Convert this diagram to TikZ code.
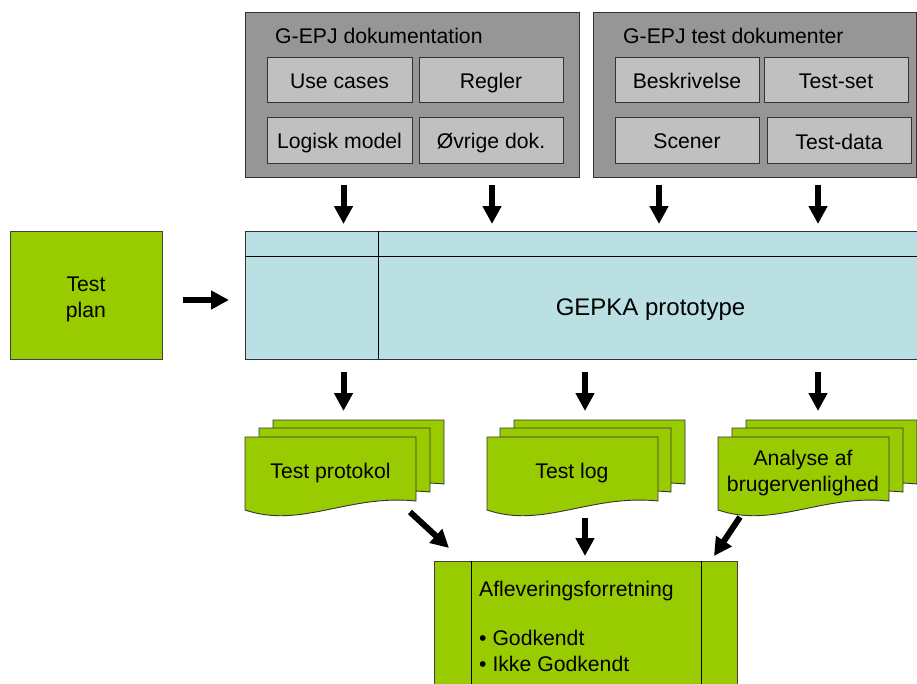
\documentclass[tikz,border=0pt]{standalone}
\usepackage{fontspec}
\setmainfont{Liberation Sans}
\usetikzlibrary{arrows.meta}

\definecolor{outergray}{HTML}{969696}
\definecolor{innergray}{HTML}{C0C0C0}
\definecolor{protocyan}{HTML}{BBE0E3}
\definecolor{leafgreen}{HTML}{99CC00}

\tikzset{
  lbl/.style={font=\fontsize{21.2}{26}\selectfont, text=black, inner sep=0pt, anchor=base},
  groupbox/.style={draw=black!80, line width=0.9pt, fill=outergray, inner sep=0pt},
  itembox/.style={draw=black!80, line width=0.9pt, fill=innergray, inner sep=0pt,
    font=\fontsize{21.2}{26}\selectfont, text height=17pt, text depth=0pt},
  greenbox/.style={draw=black!75, line width=0.9pt, fill=leafgreen, inner sep=0pt},
  flowarrow/.style={line width=6pt, -{Triangle[width=18pt,length=18pt]}},
  docpage/.pic={
    \path[draw=black!80, line width=0.9pt, fill=leafgreen]
      (0,0) -- (171,0) -- (171,64)
      .. controls (103,57) and (56,92) .. (0,73) -- cycle;
  }
}

\begin{document}
\begin{tikzpicture}[x=1pt, y=-1pt]
\useasboundingbox (0,0) rectangle (917,683);
\clip (0,0) rectangle (917,683);

% documentation group
\node[groupbox, minimum width=334, minimum height=165] (doc) at (412,94.5) {};
\node[lbl, anchor=base west] (doctitle) at (275,43) {G-EPJ dokumentation};
\node[itembox, minimum width=145, minimum height=45] (usecases) at (339.5,79.5) {Use cases};
\node[itembox, minimum width=144, minimum height=45] (regler) at (491,79.5) {Regler};
\node[itembox, minimum width=145, minimum height=46] (logisk) at (339.5,140) {Logisk model};
\node[itembox, minimum width=144, minimum height=46] (ovrige) at (491,140) {Øvrige dok.};

% test document group
\node[groupbox, minimum width=323, minimum height=165] (testdoc) at (754.5,94.5) {};
\node[lbl, anchor=base west] (testtitle) at (623,43) {G-EPJ test dokumenter};
\node[itembox, minimum width=144, minimum height=45] (beskr) at (687,79.5) {Beskrivelse};
\node[itembox, minimum width=144, minimum height=45] (testset) at (836,79.5) {Test-set};
\node[itembox, minimum width=144, minimum height=46] (scener) at (687,140) {Scener};
\node[itembox, minimum width=144, minimum height=46, text height=18.5pt] (testdata) at (839,140) {Test-data};

% test plan
\node[greenbox, minimum width=152, minimum height=128] (plan) at (86,295) {};
\node[lbl] (plan1) at (86,291) {Test};
\node[lbl] (plan2) at (86,317) {plan};

% prototype
\node[draw=black!80, line width=0.9pt, fill=protocyan, inner sep=0pt,
      minimum width=680, minimum height=128] (gepka) at (585,295) {};
\draw[black, line width=0.9pt] (245,256) -- (925,256);
\draw[black, line width=0.9pt] (378,231) -- (378,359);
\node[lbl, font=\fontsize{24}{28}\selectfont] (gepkatext) at (650.5,315.5) {GEPKA prototype};

% output documents
\pic at (273,420) {docpage};
\pic at (259,428) {docpage};
\pic at (245,437) {docpage};
\node[lbl] (protokol) at (330.5,478) {Test protokol};

\pic at (514,420) {docpage};
\pic at (500,428) {docpage};
\pic at (487,437) {docpage};
\node[lbl] (testlog) at (572,478) {Test log};

\pic at (746,420) {docpage};
\pic at (732,428) {docpage};
\pic at (718,437) {docpage};
\node[lbl] (analyse1) at (803,465) {Analyse af};
\node[lbl] (analyse2) at (803,491) {brugervenlighed};

% delivery
\node[greenbox, minimum width=303, minimum height=140, anchor=north west] (afl) at (434,561) {};
\draw[black, line width=0.9pt] (471,561) -- (471,700);
\draw[black, line width=0.9pt] (701,561) -- (701,700);
\node[lbl, anchor=base west] (afltitle) at (479,596) {Afleveringsforretning};
\node[lbl, anchor=base west] (aflyes) at (479,645.5) {• Godkendt};
\node[lbl, anchor=base west] (aflno) at (479,671.5) {• Ikke Godkendt};

% arrow end points
\coordinate (a1s) at (343.5,185); \coordinate (a1e) at (343.5,224);
\coordinate (a2s) at (492,185);   \coordinate (a2e) at (492,224);
\coordinate (a3s) at (659,185);   \coordinate (a3e) at (659,224);
\coordinate (a4s) at (818,185);   \coordinate (a4e) at (818,224);
\coordinate (p1s) at (183,300);   \coordinate (p1e) at (229,300);
\coordinate (o1s) at (343.5,372); \coordinate (o1e) at (343.5,411);
\coordinate (o2s) at (585,372);   \coordinate (o2e) at (585,411);
\coordinate (o3s) at (818,372);   \coordinate (o3e) at (818,411);
\coordinate (d1s) at (410,512);   \coordinate (d1e) at (449,548);
\coordinate (d2s) at (585,518);   \coordinate (d2e) at (585,556);
\coordinate (d3s) at (740,517);   \coordinate (d3e) at (714,556);

\foreach \s/\e in {a1s/a1e, a2s/a2e, a3s/a3e, a4s/a4e, p1s/p1e,
                   o1s/o1e, o2s/o2e, o3s/o3e, d1s/d1e, d2s/d2e, d3s/d3e}
  \draw[flowarrow] (\s) -- (\e);
\end{tikzpicture}
\end{document}
